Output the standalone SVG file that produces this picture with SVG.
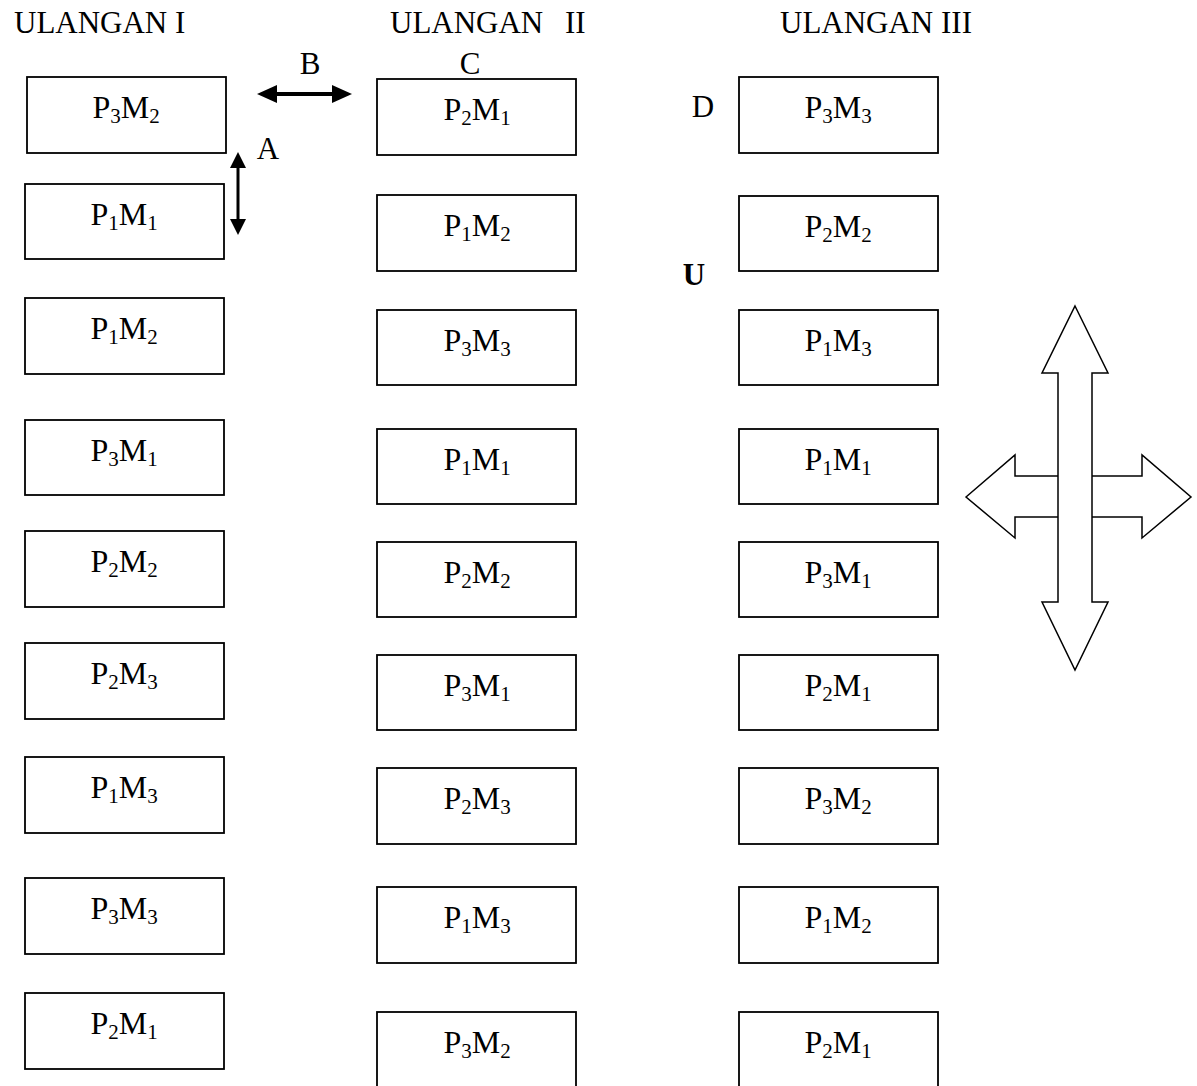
<svg xmlns="http://www.w3.org/2000/svg" width="1197" height="1086" viewBox="0 0 1197 1086">
<style>
text{font-family:"Liberation Serif","Times New Roman",serif;font-size:31px;fill:#000}
.lbl{text-anchor:middle}
.p{font-size:32px}
.s{font-size:21px}
.box{fill:#fff;stroke:#000;stroke-width:1.8}
.cmp{fill:#fff;stroke:#000;stroke-width:1.5;stroke-linejoin:miter}
.ln{stroke:#000;fill:none}
.hd{fill:#000;stroke:none}
</style>
<rect width="1197" height="1086" fill="#fff"/>
<g id="titles">
<text x="14" y="33">ULANGAN I</text>
<text x="390" y="33">ULANGAN<tspan x="565">II</tspan></text>
<text x="780" y="33">ULANGAN III</text>
</g>
<g id="letters">
<text class="lbl" x="310" y="74">B</text>
<text class="lbl" x="470" y="74">C</text>
<text class="lbl" x="268" y="159">A</text>
<text class="lbl" x="703" y="117">D</text>
<text class="lbl" x="694" y="285" font-weight="bold">U</text>
</g>
<g id="col1">
<g id="n1_1"><rect class="box" x="27" y="77" width="199" height="76"/><text class="lbl p" x="126" y="118">P<tspan class="s" dy="5">3</tspan><tspan dy="-5">M</tspan><tspan class="s" dy="5">2</tspan></text></g>
<g id="n1_2"><rect class="box" x="25" y="184" width="199" height="75"/><text class="lbl p" x="124" y="225">P<tspan class="s" dy="5">1</tspan><tspan dy="-5">M</tspan><tspan class="s" dy="5">1</tspan></text></g>
<g id="n1_3"><rect class="box" x="25" y="298" width="199" height="76"/><text class="lbl p" x="124" y="339">P<tspan class="s" dy="5">1</tspan><tspan dy="-5">M</tspan><tspan class="s" dy="5">2</tspan></text></g>
<g id="n1_4"><rect class="box" x="25" y="420" width="199" height="75"/><text class="lbl p" x="124" y="461">P<tspan class="s" dy="5">3</tspan><tspan dy="-5">M</tspan><tspan class="s" dy="5">1</tspan></text></g>
<g id="n1_5"><rect class="box" x="25" y="531" width="199" height="76"/><text class="lbl p" x="124" y="572">P<tspan class="s" dy="5">2</tspan><tspan dy="-5">M</tspan><tspan class="s" dy="5">2</tspan></text></g>
<g id="n1_6"><rect class="box" x="25" y="643" width="199" height="76"/><text class="lbl p" x="124" y="684">P<tspan class="s" dy="5">2</tspan><tspan dy="-5">M</tspan><tspan class="s" dy="5">3</tspan></text></g>
<g id="n1_7"><rect class="box" x="25" y="757" width="199" height="76"/><text class="lbl p" x="124" y="798">P<tspan class="s" dy="5">1</tspan><tspan dy="-5">M</tspan><tspan class="s" dy="5">3</tspan></text></g>
<g id="n1_8"><rect class="box" x="25" y="878" width="199" height="76"/><text class="lbl p" x="124" y="919">P<tspan class="s" dy="5">3</tspan><tspan dy="-5">M</tspan><tspan class="s" dy="5">3</tspan></text></g>
<g id="n1_9"><rect class="box" x="25" y="993" width="199" height="76"/><text class="lbl p" x="124" y="1034">P<tspan class="s" dy="5">2</tspan><tspan dy="-5">M</tspan><tspan class="s" dy="5">1</tspan></text></g>
</g>
<g id="col2">
<g id="n2_1"><rect class="box" x="377" y="79" width="199" height="76"/><text class="lbl p" x="477" y="120">P<tspan class="s" dy="5">2</tspan><tspan dy="-5">M</tspan><tspan class="s" dy="5">1</tspan></text></g>
<g id="n2_2"><rect class="box" x="377" y="195" width="199" height="76"/><text class="lbl p" x="477" y="236">P<tspan class="s" dy="5">1</tspan><tspan dy="-5">M</tspan><tspan class="s" dy="5">2</tspan></text></g>
<g id="n2_3"><rect class="box" x="377" y="310" width="199" height="75"/><text class="lbl p" x="477" y="351">P<tspan class="s" dy="5">3</tspan><tspan dy="-5">M</tspan><tspan class="s" dy="5">3</tspan></text></g>
<g id="n2_4"><rect class="box" x="377" y="429" width="199" height="75"/><text class="lbl p" x="477" y="470">P<tspan class="s" dy="5">1</tspan><tspan dy="-5">M</tspan><tspan class="s" dy="5">1</tspan></text></g>
<g id="n2_5"><rect class="box" x="377" y="542" width="199" height="75"/><text class="lbl p" x="477" y="583">P<tspan class="s" dy="5">2</tspan><tspan dy="-5">M</tspan><tspan class="s" dy="5">2</tspan></text></g>
<g id="n2_6"><rect class="box" x="377" y="655" width="199" height="75"/><text class="lbl p" x="477" y="696">P<tspan class="s" dy="5">3</tspan><tspan dy="-5">M</tspan><tspan class="s" dy="5">1</tspan></text></g>
<g id="n2_7"><rect class="box" x="377" y="768" width="199" height="76"/><text class="lbl p" x="477" y="809">P<tspan class="s" dy="5">2</tspan><tspan dy="-5">M</tspan><tspan class="s" dy="5">3</tspan></text></g>
<g id="n2_8"><rect class="box" x="377" y="887" width="199" height="76"/><text class="lbl p" x="477" y="928">P<tspan class="s" dy="5">1</tspan><tspan dy="-5">M</tspan><tspan class="s" dy="5">3</tspan></text></g>
<g id="n2_9"><rect class="box" x="377" y="1012" width="199" height="90"/><text class="lbl p" x="477" y="1053">P<tspan class="s" dy="5">3</tspan><tspan dy="-5">M</tspan><tspan class="s" dy="5">2</tspan></text></g>
</g>
<g id="col3">
<g id="n3_1"><rect class="box" x="739" y="77" width="199" height="76"/><text class="lbl p" x="838" y="118">P<tspan class="s" dy="5">3</tspan><tspan dy="-5">M</tspan><tspan class="s" dy="5">3</tspan></text></g>
<g id="n3_2"><rect class="box" x="739" y="196" width="199" height="75"/><text class="lbl p" x="838" y="237">P<tspan class="s" dy="5">2</tspan><tspan dy="-5">M</tspan><tspan class="s" dy="5">2</tspan></text></g>
<g id="n3_3"><rect class="box" x="739" y="310" width="199" height="75"/><text class="lbl p" x="838" y="351">P<tspan class="s" dy="5">1</tspan><tspan dy="-5">M</tspan><tspan class="s" dy="5">3</tspan></text></g>
<g id="n3_4"><rect class="box" x="739" y="429" width="199" height="75"/><text class="lbl p" x="838" y="470">P<tspan class="s" dy="5">1</tspan><tspan dy="-5">M</tspan><tspan class="s" dy="5">1</tspan></text></g>
<g id="n3_5"><rect class="box" x="739" y="542" width="199" height="75"/><text class="lbl p" x="838" y="583">P<tspan class="s" dy="5">3</tspan><tspan dy="-5">M</tspan><tspan class="s" dy="5">1</tspan></text></g>
<g id="n3_6"><rect class="box" x="739" y="655" width="199" height="75"/><text class="lbl p" x="838" y="696">P<tspan class="s" dy="5">2</tspan><tspan dy="-5">M</tspan><tspan class="s" dy="5">1</tspan></text></g>
<g id="n3_7"><rect class="box" x="739" y="768" width="199" height="76"/><text class="lbl p" x="838" y="809">P<tspan class="s" dy="5">3</tspan><tspan dy="-5">M</tspan><tspan class="s" dy="5">2</tspan></text></g>
<g id="n3_8"><rect class="box" x="739" y="887" width="199" height="76"/><text class="lbl p" x="838" y="928">P<tspan class="s" dy="5">1</tspan><tspan dy="-5">M</tspan><tspan class="s" dy="5">2</tspan></text></g>
<g id="n3_9"><rect class="box" x="739" y="1012" width="199" height="90"/><text class="lbl p" x="838" y="1053">P<tspan class="s" dy="5">2</tspan><tspan dy="-5">M</tspan><tspan class="s" dy="5">1</tspan></text></g>
</g>
<g id="connectors">
<g id="arrowB">
<line class="ln" x1="272" y1="94" x2="337" y2="94" stroke-width="4"/>
<polygon class="hd" points="257,94 277,85 277,103"/>
<polygon class="hd" points="352,94 332,85 332,103"/>
</g>
<g id="arrowA">
<line class="ln" x1="238" y1="164" x2="238" y2="223" stroke-width="3"/>
<polygon class="hd" points="238,152 230,168 246,168"/>
<polygon class="hd" points="238,235 230,219 246,219"/>
</g>
</g>
<g id="compass">
<polygon class="cmp" points="966,497 1015,455 1015,476 1142,476 1142,455 1191,497 1142,538 1142,517 1015,517 1015,538"/>
<polygon class="cmp" points="1075,306 1108,373 1092,373 1092,602 1108,602 1075,670 1042,602 1058,602 1058,373 1042,373"/>
</g>
</svg>
